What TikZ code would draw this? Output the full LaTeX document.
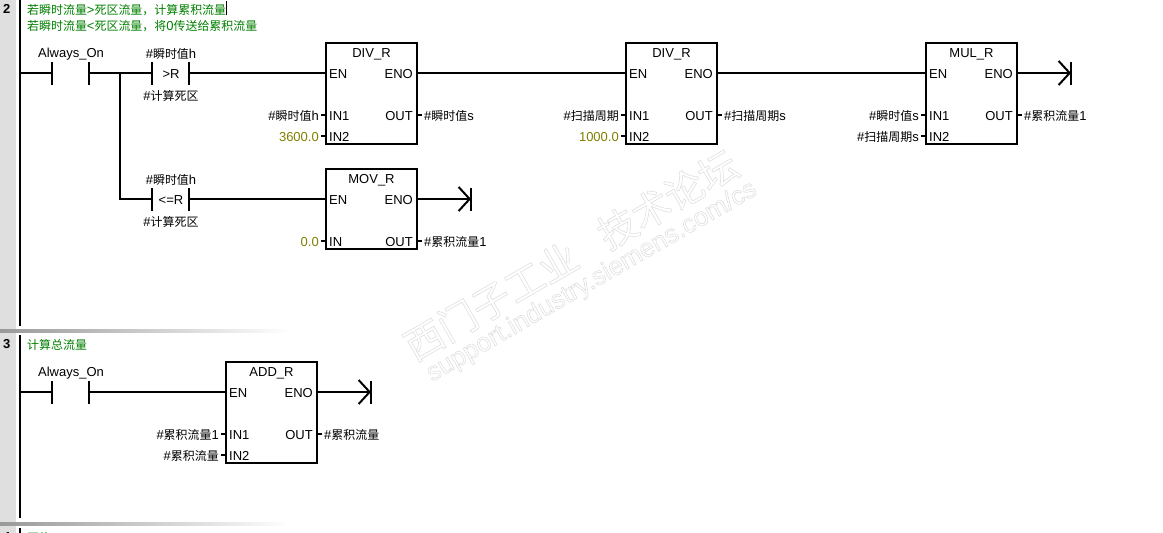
\documentclass[tikz,border=0pt]{standalone}
\usepackage{fontspec}
\setmainfont{Liberation Sans}
\newfontfamily\cjk[Scale=0.92]{Noto Sans CJK SC}
\usetikzlibrary{arrows.meta}
\newcommand{\cn}[1]{{\cjk #1}}
\newcommand{\outlined}[1]{\special{pdf:code q 1 Tr 0.5 w 0.86 G}#1\special{pdf:code 0 Tr Q}}
\definecolor{cmtgreen}{HTML}{008000}
\definecolor{constolive}{HTML}{808000}
\begin{document}
\begin{tikzpicture}[
    x=1pt, y=-1pt,
    font=\fontsize{13}{15}\selectfont,
    wire/.style={line width=2pt},
    coilwire/.style={line width=2pt, -{Straight Barb[length=11pt, width=24pt, line width=2pt]}},
    stub/.style={line width=2pt},
    bar/.style={fill=black, minimum width=2pt, minimum height=23pt, inner sep=0pt},
    block/.style={draw, line width=2pt, minimum width=91pt, inner sep=0pt, outer sep=0pt, anchor=north west},
    txt/.style={text height=13pt, text depth=2pt},
    pinin/.style={txt, anchor=west, inner xsep=3pt, inner ysep=0pt},
    pinout/.style={txt, anchor=east, inner xsep=4pt, inner ysep=0pt},
    oper/.style={txt, anchor=east, inner xsep=2pt, inner ysep=0pt},
    res/.style={txt, anchor=west, inner xsep=2pt, inner ysep=0pt},
    cnst/.style={oper, text=constolive},
    lbl/.style={txt, inner sep=0pt},
    cmt/.style={txt, anchor=west, inner sep=0pt, text=cmtgreen},
    rungno/.style={txt, anchor=west, inner sep=0pt, font=\fontsize{13}{15}\selectfont\bfseries},
    sep/.style={left color=gray!80, right color=white, draw=none},
    wmark/.style={rotate=30, inner sep=0pt}
]
\useasboundingbox (0,0) rectangle (1163,533);
\clip (0,0) rectangle (1163,533);
\fill[white] (0,0) rectangle (1163,533);

% Watermark
\node[wmark, font=\fontsize{42}{46}\selectfont] (mark1) at (571,255) {\outlined{\cn{西门子工业\hspace{30pt}技术论坛}}};
\node[wmark, font=\fontsize{26}{30}\selectfont] (mark2) at (592,282) {\outlined{support.industry.siemens.com/cs}};

% Side bar
\fill[gray!25] (0,0) rectangle (16,533);
\fill[sep] (0,329) rectangle (290,332);
\fill[sep] (0,522) rectangle (290,525);
\node[rungno] (no2) at (3,8) {2};
\node[rungno] (no3) at (3,343) {3};
\node[rungno] (no4) at (3,536) {4};

% Power rails
\draw[wire] (20,0) -- (20,326);
\draw[wire] (20,335) -- (20,518);
\draw[wire] (20,528) -- (20,533);

% Network 2 comment
\node[cmt] (cmt1) at (27,9) {\cn{若瞬时流量}>\cn{死区流量\char"FF0C 计算累积流量}};
\node[cmt] (cmt2) at (27,25) {\cn{若瞬时流量}<\cn{死区流量\char"FF0C 将}0\cn{传送给累积流量}};
\draw[line width=1pt] (226.5,1) -- (226.5,15);

% Network 2 contacts
\coordinate (rail1) at (20,73);
\node[bar] (on1a) at (52,73) {};
\node[bar] (on1b) at (89,73) {};
\node[lbl] at (71,52) {Always\_On};
\coordinate (branch) at (120,73);

\node[bar] (gt1a) at (152,73) {};
\node[bar] (gt1b) at (189,73) {};
\node[lbl] at (171,73) {>R};
\node[lbl] at (171,53) {\#\cn{瞬时值}h};
\node[lbl] at (171,95) {\#\cn{计算死区}};

\node[bar] (le1a) at (152,199) {};
\node[bar] (le1b) at (189,199) {};
\node[lbl] at (171,199) {<=R};
\node[lbl] at (171,179) {\#\cn{瞬时值}h};
\node[lbl] at (171,221) {\#\cn{计算死区}};

% DIV_R 1
\node[block, minimum height=101pt] (div1) at (326,43) {};
\node[lbl] at (371.5,52) {DIV\_R};
\node[pinin] (div1en) at (326,73) {EN};
\node[pinout] (div1eno) at (417,73) {ENO};
\node[pinin] (div1a) at (326,115) {IN1};
\node[pinin] (div1b) at (326,136) {IN2};
\node[pinout] (div1out) at (417,115) {OUT};
\node[oper] (div1x) at (321,115) {\#\cn{瞬时值}h};
\node[cnst] (div1y) at (321,136) {3600.0};
\node[res] (div1r) at (422,115) {\#\cn{瞬时值}s};

% DIV_R 2
\node[block, minimum height=101pt] (div2) at (626,43) {};
\node[lbl] at (671.5,52) {DIV\_R};
\node[pinin] (div2en) at (626,73) {EN};
\node[pinout] (div2eno) at (717,73) {ENO};
\node[pinin] (div2a) at (626,115) {IN1};
\node[pinin] (div2b) at (626,136) {IN2};
\node[pinout] (div2out) at (717,115) {OUT};
\node[oper] (div2x) at (621,115) {\#\cn{扫描周期}};
\node[cnst] (div2y) at (621,136) {1000.0};
\node[res] (div2r) at (722,115) {\#\cn{扫描周期}s};

% MUL_R
\node[block, minimum height=101pt] (mul) at (926,43) {};
\node[lbl] at (971.5,52) {MUL\_R};
\node[pinin] (mulen) at (926,73) {EN};
\node[pinout] (muleno) at (1017,73) {ENO};
\node[pinin] (mula) at (926,115) {IN1};
\node[pinin] (mulb) at (926,136) {IN2};
\node[pinout] (mulout) at (1017,115) {OUT};
\node[oper] (mulx) at (921,115) {\#\cn{瞬时值}s};
\node[oper] (muly) at (921,136) {\#\cn{扫描周期}s};
\node[res] (mulr) at (1022,115) {\#\cn{累积流量}1};
\node[bar] (coil1) at (1071,73) {};

% MOV_R
\node[block, minimum height=80pt] (mov) at (326,169) {};
\node[lbl] at (371.5,178) {MOV\_R};
\node[pinin] (moven) at (326,199) {EN};
\node[pinout] (moveno) at (417,199) {ENO};
\node[pinin] (mova) at (326,241) {IN};
\node[pinout] (movout) at (417,241) {OUT};
\node[cnst] (movx) at (321,241) {0.0};
\node[res] (movr) at (422,241) {\#\cn{累积流量}1};
\node[bar] (coil2) at (471,199) {};

% Network 2 wires
\draw[wire] (rail1) -- (on1a.west);
\draw[wire] (on1b.east) -- (gt1a.west);
\draw[wire] (branch) |- (le1a.west);
\draw[wire] (gt1b.east) -- (div1en.west);
\draw[wire] (le1b.east) -- (moven.west);
\draw[wire] (div1eno.east) -- (div2en.west);
\draw[wire] (div2eno.east) -- (mulen.west);
\draw[coilwire] (muleno.east) -- (coil1.center);
\draw[coilwire] (moveno.east) -- (coil2.center);

% Network 3
\node[cmt] (cmt3) at (27,344) {\cn{计算总流量}};
\coordinate (rail2) at (20,392);
\node[bar] (on2a) at (52,392) {};
\node[bar] (on2b) at (89,392) {};
\node[lbl] at (71,371) {Always\_On};

\node[block, minimum height=101pt] (add) at (226,362) {};
\node[lbl] at (271.5,371) {ADD\_R};
\node[pinin] (adden) at (226,392) {EN};
\node[pinout] (addeno) at (317,392) {ENO};
\node[pinin] (adda) at (226,434) {IN1};
\node[pinin] (addb) at (226,455) {IN2};
\node[pinout] (addout) at (317,434) {OUT};
\node[oper] (addx) at (221,434) {\#\cn{累积流量}1};
\node[oper] (addy) at (221,455) {\#\cn{累积流量}};
\node[res] (addr) at (322,434) {\#\cn{累积流量}};
\node[bar] (coil3) at (371,392) {};

\draw[wire] (rail2) -- (on2a.west);
\draw[wire] (on2b.east) -- (adden.west);
\draw[coilwire] (addeno.east) -- (coil3.center);

% Operand stubs
\foreach \pin/\oprnd in {div1a/div1x, div1b/div1y, div2a/div2x, div2b/div2y, mula/mulx, mulb/muly, mova/movx, adda/addx, addb/addy}
    \draw[stub] (\pin.west) -- (\oprnd.east);
\foreach \pin/\oprnd in {div1out/div1r, div2out/div2r, mulout/mulr, movout/movr, addout/addr}
    \draw[stub] (\pin.east) -- (\oprnd.west);

% Network 4 comment
\node[cmt] (cmt4) at (27,537) {\cn{网络}};
\end{tikzpicture}
\end{document}
